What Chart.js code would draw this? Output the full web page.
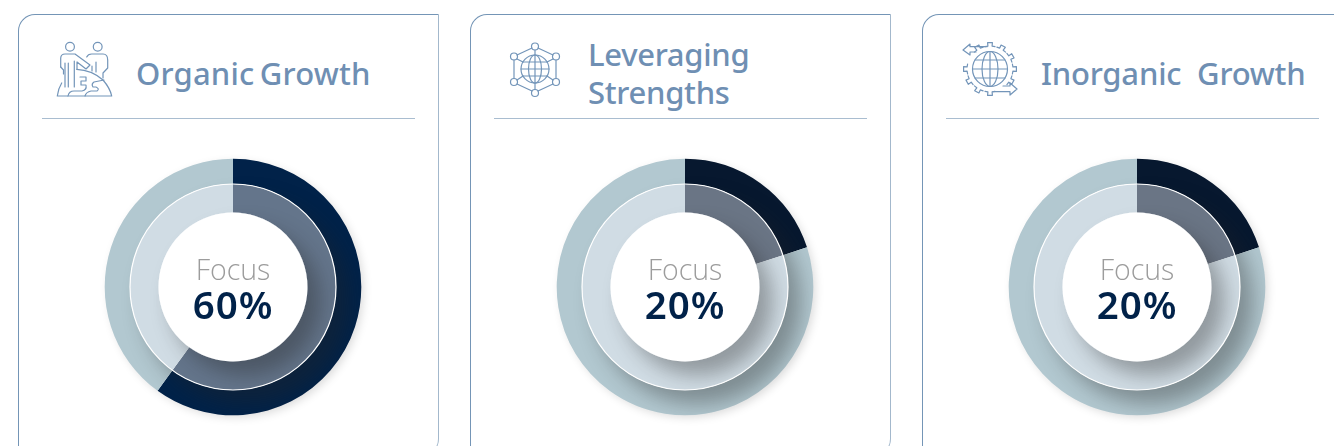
<!DOCTYPE html>
<html><head><meta charset="utf-8">
<script src="https://cdn.jsdelivr.net/npm/chart.js@4"></script>
<style>
html,body{margin:0;padding:0;background:#fff;width:1334px;height:446px;overflow:hidden;position:relative;font-family:"Noto Sans",sans-serif}
.card{position:absolute;top:14px;width:421px;height:442px;box-sizing:border-box;border:1px solid #7495b6;border-right-color:#a3b8cc;border-radius:17px 0 17px 0;background:#fff}
.rule{position:absolute;top:118px;width:373px;height:1px;background:#a9bdd0}
.title{position:absolute;color:#6f8fb3;font-size:31px;font-weight:500;line-height:37px;white-space:pre}
.box{position:absolute;top:137px;width:300px;height:300px}
.label{position:absolute;width:200px;text-align:center;white-space:nowrap}
.f{top:252px;font-size:28.5px;line-height:34px;font-weight:300;color:#9c9c9c;font-family:"Open Sans",sans-serif}
.v{top:280px;font-size:38.5px;line-height:48px;font-weight:600;letter-spacing:1px;color:#012249}
svg.ic{position:absolute;left:0;top:0;width:1334px;height:446px;fill:none;stroke:#7395b9;stroke-width:1.2;stroke-linecap:round;stroke-linejoin:round;z-index:2}
</style></head><body>
<div id="root"></div>
<svg class="ic" viewBox="0 0 1334 446" id="icons">
 <!-- people and globe -->
 <circle cx="70" cy="46.700" r="4.400"/><circle cx="97.700" cy="46.700" r="4.400"/>
 <path d="M65 87V63M68.300 87V63M74.300 87V61M60.700 67V58Q61 54 65 54H75L90 65 86 69 77 62V69"/>
 <path d="M60.700 67L63.500 70V74"/>
 <path d="M86.700 57Q88 54 91.700 54H103Q107.700 54 107.700 60V68L103 73V78M92 66V71M96 62V72"/>
 <path d="M57.300 96H111.700Q110 88 103 80Q92 70 76.700 69.300M57.300 96Q58 89 61.700 83"/>
 <path d="M80 77H86V81H81V85H86Q87 90 82 91H74Q69 91 68 96M85 96Q86 92 91 91H97Q100 89 96 87H93Q91 84 94 82L104 80"/>
 <!-- network globe -->
 <circle cx="535" cy="69" r="14"/><ellipse cx="535" cy="69" rx="6.500" ry="14"/><path d="M535 55V83M521 69H549M523 62H547M523 76H547"/>
 <circle cx="535" cy="46.500" r="3.500"/><circle cx="514" cy="56.500" r="3.500"/><circle cx="556" cy="56.500" r="3.500"/><circle cx="514" cy="82" r="3.500"/><circle cx="556" cy="82" r="3.500"/><circle cx="535" cy="93" r="3.500"/>
 <path d="M538 48L553 55M532 48L517 55M514 60V78.500M556 60V78.500M517 84L532 91M553 84L538 91M535 50V55M535 83V89.500M517 59L523 62M553 59L547 62M517 80L523 76M553 80L547 76"/>
 <!-- gear globe -->
 <circle cx="990" cy="69" r="17.500"/><ellipse cx="990" cy="69" rx="8" ry="17.500"/><path d="M990 51.500V86.500M972.500 69H1007.500M975 60H1005M975 78H1005"/>
 <path id="gear"/>
 <path d="M987 46.700H970V44L963 50 970 55V52H976"/>
 <path d="M1003 86H1010V83L1017 89 1010 95V91.700H993"/>
</svg>
<script>
const categories = ['Organic Growth', 'Leveraging Strengths', 'Inorganic Growth'];
const segmentLabels = ['Focus', 'Other'];
const focusValues = [60, 20, 20];
const otherValues = [40, 80, 80];
const titleLines = [['Organic Growth'], ['Leveraging', 'Strengths'], ['Inorganic  Growth']];
const titleStyles = ['letter-spacing:.2px;word-spacing:-3px', 'letter-spacing:-.3px', 'letter-spacing:-.2px;margin-left:1px'];
const outerFocusColors = ['#012249', '#07182f', '#07182f'];
const innerFocusColors = ['#64758b', '#6a7585', '#6a7585'];
const outerOtherColor = '#b2c8d0';
const innerOtherColor = '#d0dce4';

/* gear outline for the third icon */
(function () {
  const cx = 990, cy = 69, r1 = 23, r2 = 26.5, n = 12;
  const p = (rad, t) => (cx + rad * Math.cos(t)).toFixed(1) + ' ' + (cy + rad * Math.sin(t)).toFixed(1);
  let d = '';
  for (let i = 0; i < n; i++) {
    if (i === 10 || i === 5) continue;
    const a = i * 2 * Math.PI / n - Math.PI / 2, w = .09, s = .22;
    d += 'M' + p(r1, a - s) + 'L' + p(r1, a - w) + 'L' + p(r2, a - w) + 'L' + p(r2, a + w) + 'L' + p(r1, a + w) + 'L' + p(r1, a + s);
  }
  document.getElementById('gear').setAttribute('d', d);
})();

const ringShade = {
  id: 'ringShade',
  beforeDatasetsDraw(chart) {
    const el = chart.getDatasetMeta(0).data[0], c = chart.ctx;
    c.save();
    c.beginPath();
    c.rect(0, 0, chart.width, chart.height);
    c.arc(el.x, el.y, el.outerRadius - 1, 0, Math.PI * 2, true);
    c.clip('evenodd');
    c.shadowColor = 'rgba(0,0,0,.15)'; c.shadowBlur = 10; c.shadowOffsetX = 3; c.shadowOffsetY = 3;
    c.fillStyle = '#b2c8d0';
    c.beginPath(); c.arc(el.x, el.y, el.outerRadius - 1, 0, Math.PI * 2); c.fill();
    c.restore();
  },
  afterDatasetDraw(chart, args) {
    const el = chart.getDatasetMeta(args.index).data[0], c = chart.ctx;
    c.save();
    c.beginPath();
    c.arc(el.x, el.y, el.outerRadius, 0, Math.PI * 2);
    c.arc(el.x, el.y, el.innerRadius, 0, Math.PI * 2, true);
    c.clip('evenodd');
    c.shadowColor = 'rgba(35,35,35,.36)';
    c.shadowBlur = 20; c.shadowOffsetX = 13; c.shadowOffsetY = 14;
    c.fillStyle = '#fff';
    c.beginPath(); c.arc(el.x, el.y, el.innerRadius, 0, Math.PI * 2); c.fill();
    c.restore();
  },
  afterDatasetsDraw(chart) {
    const el = chart.getDatasetMeta(0).data[0], c = chart.ctx;
    c.save();
    c.strokeStyle = '#fff'; c.lineWidth = 1.2;
    c.beginPath(); c.arc(el.x, el.y, el.innerRadius, 0, Math.PI * 2); c.stroke();
    c.restore();
  }
};

const root = document.getElementById('root');
categories.forEach((name, i) => {
  const off = i * 452;
  const add = (cls, css, text) => {
    const d = document.createElement('div');
    d.className = cls; d.style.cssText = css; if (text) d.textContent = text;
    root.appendChild(d); return d;
  };
  add('card', 'left:' + (18 + off) + 'px');
  add('rule', 'left:' + (42 + off) + 'px');
  const lines = titleLines[i];
  lines.forEach((t, k) => {
    const top = lines.length === 1 ? 55 : 36 + k * 38;
    add('title', 'left:' + (136 + off) + 'px;top:' + top + 'px;' + titleStyles[i], t);
  });
  const box = add('box', 'left:' + (83 + off) + 'px');
  const cv = document.createElement('canvas');
  cv.width = 300; cv.height = 300;
  box.appendChild(cv);
  add('label f', 'left:' + (133 + off) + 'px', 'Focus');
  add('label v', 'left:' + (133 + off) + 'px', focusValues[i] + '%');
  new Chart(cv, {
    type: 'doughnut',
    data: {
      labels: segmentLabels,
      datasets: [
        { label: name + ' outer', data: [focusValues[i], otherValues[i]], backgroundColor: [outerFocusColors[i], outerOtherColor], weight: 25.3, borderWidth: 0 },
        { label: name + ' inner', data: [focusValues[i], otherValues[i]], backgroundColor: [innerFocusColors[i], innerOtherColor], weight: 28.5, borderWidth: 0 }
      ]
    },
    options: {
      responsive: false, animation: false, radius: 128.3, cutout: '58.07%',
      layout: { padding: 0 },
      plugins: { legend: { display: false }, tooltip: { enabled: false } }
    },
    plugins: [ringShade]
  });
});
</script>
</body></html>
